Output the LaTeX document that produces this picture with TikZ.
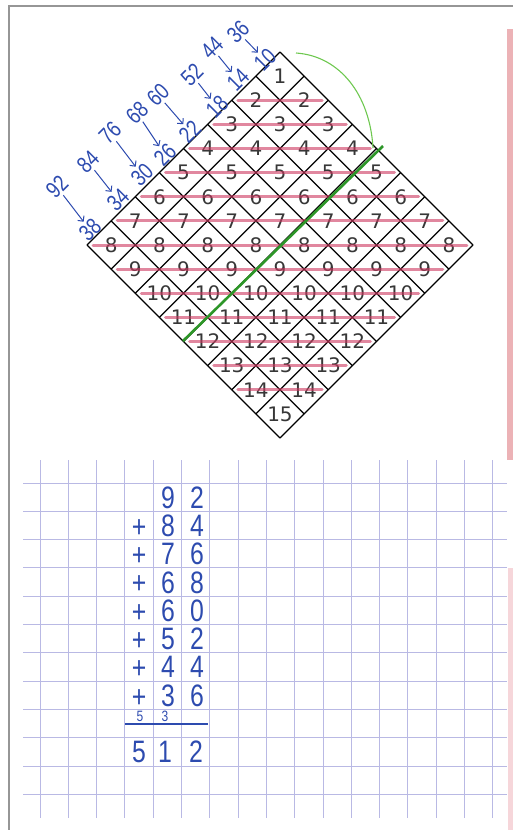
\documentclass[tikz,border=0pt]{standalone}
\usepackage{fontspec}
\setmainfont{DejaVu Sans}
\newfontfamily\handfont[FakeStretch=0.8]{Liberation Sans}
\usetikzlibrary{arrows.meta}
\definecolor{penblue}{RGB}{45,75,175}
\definecolor{crayonred}{RGB}{205,55,95}
\definecolor{gridblue}{RGB}{185,185,228}
\definecolor{framegray}{RGB}{150,150,150}
\definecolor{marginpink}{RGB}{236,178,182}
\definecolor{marginlight}{RGB}{246,214,218}
\definecolor{markgreen}{RGB}{45,150,40}
\definecolor{arcgreen}{RGB}{110,200,80}
\definecolor{cellgray}{RGB}{55,55,55}

\begin{document}
\begin{tikzpicture}[x=1pt, y=-1pt,
    cellnum/.style={font=\fontsize{20}{20}\selectfont, text=cellgray, inner sep=0pt},
    hand/.style={font=\handfont\fontsize{23}{23}\selectfont, text=penblue, inner sep=0pt, rotate=45},
    sumdigit/.style={font=\handfont\fontsize{31}{31}\selectfont, text=penblue, inner sep=0pt},
    carry/.style={font=\handfont\fontsize{15}{15}\selectfont, text=penblue, inner sep=0pt},
    handarrow/.style={penblue, line width=1pt, -{Straight Barb[length=4pt,width=8pt]}, shorten <=2pt, shorten >=2pt}]
    \useasboundingbox (0,0) rectangle (513,830);

    % page frame and margins
    \draw[framegray, line width=2.5pt] (9,830) -- (9,6) -- (513,6);
    \fill[marginpink] (507,29) rectangle (513,460);
    \fill[marginlight] (508,568) rectangle (513,830);

    % squared paper
    \foreach \i in {0,...,16}
      \draw[gridblue, line width=0.9pt] ({40+28.3*\i},460) -- ({40+28.3*\i},818);
    \foreach \j in {0,...,11}
      \draw[gridblue, line width=0.9pt] (23,{483+28.3*\j}) -- (507,{483+28.3*\j});

    % the turned square
    \foreach \i in {0,...,8} {
      \draw[line width=1.1pt] ({280+24.125*\i},{52+24.125*\i}) -- ({87+24.125*\i},{245+24.125*\i});
      \draw[line width=1.1pt] ({280-24.125*\i},{52+24.125*\i}) -- ({473-24.125*\i},{245+24.125*\i});
    }
    \foreach \a in {0,...,7}
      \foreach \b in {0,...,7} {
        \pgfmathtruncatemacro\k{\a+\b+1}
        \node[cellnum] (c-\a-\b) at ({280+24.125*(\b-\a)},{52+24.125*(\a+\b+1)}) {\k};
      }

    % crossed out rows
    \foreach \k in {2,...,14} {
      \pgfmathtruncatemacro\n{min(\k,16-\k)}
      \draw[crayonred, line width=3pt, opacity=0.6, line cap=round]
        ({280-24.125*(\n-1)-18},{52+24.125*\k}) -- ({280+24.125*(\n-1)+18},{52+24.125*\k});
    }

    % green marks
    \coordinate (g-low) at (183,341);
    \coordinate (g-high) at (383,146);
    \draw[markgreen, line width=2.6pt] (g-low) -- (g-high);
    \coordinate (a-start) at (296,53);
    \coordinate (a-end) at (373,148);
    \draw[arcgreen, line width=1.1pt] (a-start) .. controls (340,56) and (370,95) .. (a-end);

    % diagonal sums
    \foreach \hi/\lo/\xa/\ya/\xb/\yb in {92/38/57/187/90/230, 84/34/88/162/118/200,
        76/30/110/133/142/175, 68/26/137/113/165/155, 60/22/158/95/190/132,
        52/18/192/75/217/107, 44/14/212/48/238/80, 36/10/238/32/265/60} {
      \node[hand] (h-\hi) at (\xa,\ya) {\hi};
      \node[hand] (h-\lo) at (\xb,\yb) {\lo};
      \draw[handarrow] (h-\hi) -- (h-\lo);
    }

    % written addition
    \foreach \r/\t/\o in {0/9/2, 1/8/4, 2/7/6, 3/6/8, 4/6/0, 5/5/2, 6/4/4, 7/3/6} {
      \node[sumdigit] (t-\r) at (168,{497.5+28.3*\r}) {\t};
      \node[sumdigit] (o-\r) at (197,{497.5+28.3*\r}) {\o};
    }
    \foreach \r in {1,...,7}
      \node[sumdigit] (p-\r) at (139,{500+28.3*\r}) {+};
    \node[carry] (carry-5) at (140,716) {5};
    \node[carry] (carry-3) at (165,716) {3};
    \draw[penblue, line width=1.2pt] (125,724) -- (208,724);
    \node[sumdigit] (r-5) at (139,752) {5};
    \node[sumdigit] (r-1) at (165,752) {1};
    \node[sumdigit] (r-2) at (196,752) {2};
\end{tikzpicture}
\end{document}
